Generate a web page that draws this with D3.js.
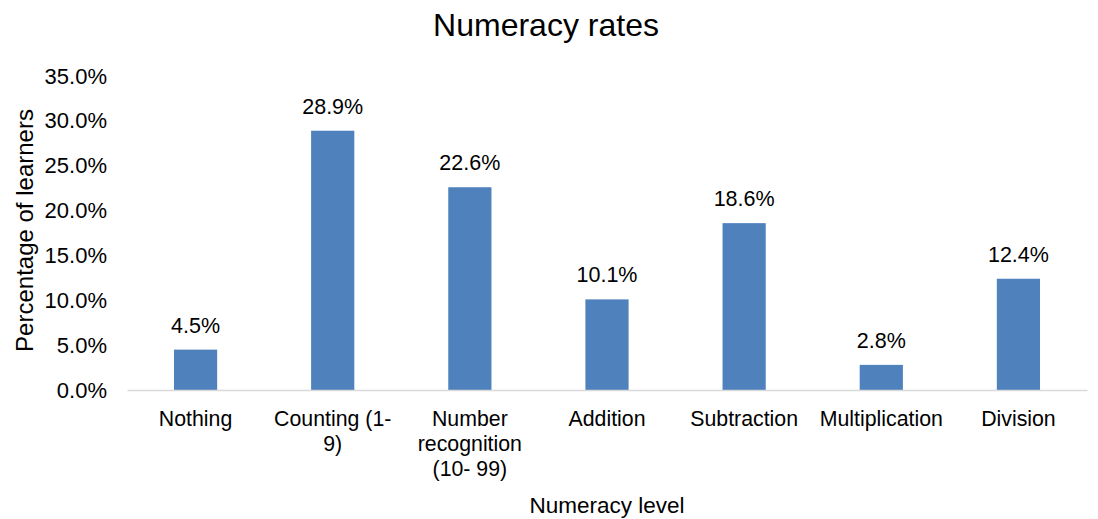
<!DOCTYPE html>
<html>
<head>
<meta charset="utf-8">
<script src="https://cdn.jsdelivr.net/npm/d3@7"></script>
<style>
  html, body { margin: 0; padding: 0; background: #fff; }
  svg { display: block; font-family: "Liberation Sans", Arial, Helvetica, sans-serif; }
</style>
</head>
<body>
<svg id="chart" width="1098" height="519"></svg>
<script>
// Numeracy level categories and share of learners (%)
const categories = ["Nothing", "Counting (1-9)", "Number recognition (10- 99)", "Addition", "Subtraction", "Multiplication", "Division"];
const categoryLabelLines = [
  ["Nothing"],
  ["Counting (1-", "9)"],
  ["Number", "recognition", "(10- 99)"],
  ["Addition"],
  ["Subtraction"],
  ["Multiplication"],
  ["Division"]
];
const percentages = [4.5, 28.9, 22.6, 10.1, 18.6, 2.8, 12.4];
const yTicks = [0, 5, 10, 15, 20, 25, 30, 35];

const svg = d3.select("#chart");
const margin = { left: 127, right: 11, top: 76, bottom: 129 };
const W = 1098, H = 519;

const x = d3.scaleBand()
  .domain(categories)
  .range([margin.left, W - margin.right])
  .paddingInner(0.685)
  .paddingOuter(0.3425);

const y = d3.scaleLinear()
  .domain([0, 35])
  .range([H - margin.bottom, margin.top]);

const fmt = v => v.toFixed(1) + "%";

// Title
svg.append("text")
  .attr("x", 546).attr("y", 36)
  .attr("text-anchor", "middle")
  .attr("font-size", 32)
  .attr("fill", "#000")
  .text("Numeracy rates");

// Y axis (labels only)
const yAxis = svg.append("g")
  .attr("transform", `translate(${margin.left},0)`)
  .call(d3.axisLeft(y).tickValues(yTicks).tickFormat(fmt).tickSize(0).tickPadding(20));
yAxis.select(".domain").remove();
yAxis.selectAll("text")
  .attr("font-size", 22)
  .attr("fill", "#000")
  .attr("font-family", "Liberation Sans, Arial, sans-serif");

// Bars
svg.append("g").selectAll("rect")
  .data(percentages)
  .join("rect")
  .attr("x", (d, i) => x(categories[i]))
  .attr("width", x.bandwidth())
  .attr("y", d => y(d))
  .attr("height", d => y(0) - y(d))
  .attr("fill", "#4F81BD");

// Value labels
svg.append("g").selectAll("text")
  .data(percentages)
  .join("text")
  .attr("x", (d, i) => x(categories[i]) + x.bandwidth() / 2)
  .attr("y", d => y(d) - 17)
  .attr("text-anchor", "middle")
  .attr("font-size", 21.5)
  .attr("fill", "#000")
  .text(fmt);

// X axis baseline and category labels
const xAxis = svg.append("g")
  .attr("transform", `translate(0,${y(0)})`)
  .call(d3.axisBottom(x).tickSize(0).tickFormat(""));
xAxis.select(".domain")
  .attr("stroke", "#D9D9D9")
  .attr("stroke-width", 1.5);

xAxis.selectAll(".tick").each(function (d, i) {
  const t = d3.select(this).append("text")
    .attr("text-anchor", "middle")
    .attr("font-size", 21.3)
    .attr("fill", "#000");
  categoryLabelLines[i].forEach((line, k) => {
    t.append("tspan").attr("x", 0).attr("y", 36 + k * 25).text(line);
  });
});

// Axis titles
svg.append("text")
  .attr("x", 607).attr("y", 513)
  .attr("text-anchor", "middle")
  .attr("font-size", 22.5)
  .attr("fill", "#000")
  .text("Numeracy level");

svg.append("text")
  .attr("transform", `translate(33,${(109 + 352) / 2}) rotate(-90)`)
  .attr("text-anchor", "middle")
  .attr("font-size", 24)
  .attr("fill", "#000")
  .text("Percentage of learners");
</script>
</body>
</html>
